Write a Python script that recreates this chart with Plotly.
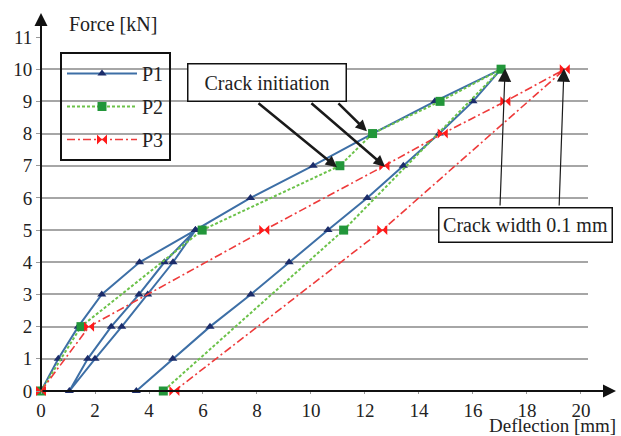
import plotly.graph_objects as go

# ---- data ----
p1_x = [0, 0.64, 1.38, 2.25, 3.65, 5.72, 4.89, 3.95, 2.99, 2.0, 1.05,
        1.73, 2.6, 3.63, 4.57, 5.72, 7.76, 10.08, 12.28, 14.59, 17.04,
        16.0, 14.75, 13.42, 12.08, 10.63, 9.19, 7.77, 6.26, 4.88, 3.53]
p1_y = [0, 1, 2, 3, 4, 5, 4, 3, 2, 1, 0,
        1, 2, 3, 4, 5, 6, 7, 8, 9, 10,
        9, 8, 7, 6, 5, 4, 3, 2, 1, 0]
p2_x = [0, 1.48, 5.97, 11.07, 12.28, 14.78, 17.04, 11.21, 4.53]
p2_y = [0, 2, 5, 7, 8, 9, 10, 5, 0]
p3_x = [0, 1.78, 8.27, 12.72, 14.88, 17.2, 19.4, 12.64, 4.94]
p3_y = [0, 2, 5, 7, 8, 9, 10, 5, 0]
series_names = ["P1", "P2", "P3"]
x_ticks = [0, 2, 4, 6, 8, 10, 12, 14, 16, 18, 20]
y_ticks = [0, 1, 2, 3, 4, 5, 6, 7, 8, 9, 10, 11]

FONT = "Liberation Serif"

fig = go.Figure()
fig.add_trace(go.Scatter(
    x=p1_x, y=p1_y, name=series_names[0], mode="lines+markers",
    line=dict(color="#3d6fa6", width=2),
    marker=dict(symbol="triangle-up", size=8, color="#1b2c6a"),
    cliponaxis=False, legendgroup="a"))
fig.add_trace(go.Scatter(
    x=p2_x, y=p2_y, name=series_names[1], mode="lines+markers",
    line=dict(color="#6cc24a", width=2, dash="3px,2px"),
    marker=dict(symbol="square", size=9, color="#22963a"),
    cliponaxis=False, legendgroup="b"))
fig.add_trace(go.Scatter(
    x=p3_x, y=p3_y, name=series_names[2], mode="lines+markers",
    line=dict(color="#ee3a3a", width=1.6, dash="8px,3px,2px,3px"),
    marker=dict(symbol="bowtie", size=10, color="#ff1a1a"),
    cliponaxis=False, legendgroup="c"))

L, R, T, B = 41, 33, 37, 45
W, H = 621, 436
pw, ph = W - L - R, H - T - B

def px_x(p):
    return (p - L) / pw

def px_y(p):
    return (H - B - p) / ph

annotations = []
# axis arrows
annotations.append(dict(xref="paper", yref="paper", x=px_x(616), y=0,
                        ax=-(616 - L), ay=0, text="", showarrow=True,
                        arrowhead=2, arrowsize=1.3, arrowwidth=2, arrowcolor="#111"))
annotations.append(dict(xref="paper", yref="paper", x=0, y=px_y(13),
                        ax=0, ay=(H - B - 13), text="", showarrow=True,
                        arrowhead=2, arrowsize=1.3, arrowwidth=2, arrowcolor="#111"))
# axis titles
annotations.append(dict(xref="paper", yref="paper", x=px_x(67), y=px_y(24),
                        xanchor="left", yanchor="middle", text="Force [kN]",
                        showarrow=False, font=dict(family=FONT, size=20, color="#222")))
annotations.append(dict(xref="paper", yref="paper", x=px_x(618), y=px_y(438),
                        xanchor="right", yanchor="bottom", text="Deflection [mm]",
                        showarrow=False, font=dict(family=FONT, size=19, color="#222")))
# crack initiation box and arrows
annotations.append(dict(xref="x", yref="y", x=(267 - L) / 27, y=(391 - 82.5) / 32.2,
                        text="Crack initiation", showarrow=False, width=157, height=36,
                        bordercolor="#111", borderwidth=1.5, borderpad=0, bgcolor="white",
                        font=dict(family=FONT, size=20, color="#222")))
for tx, ty, hx, hy in [(8.0, 8.98, 10.96, 6.95), (9.96, 8.98, 12.74, 6.97),
                       (10.96, 8.98, 12.07, 8.07)]:
    annotations.append(dict(xref="x", yref="y", axref="x", ayref="y",
                            x=hx, y=hy, ax=tx, ay=ty, text="", showarrow=True,
                            arrowhead=2, arrowsize=0.9, arrowwidth=2.5, arrowcolor="#1a1a1a"))
# crack width box and arrows
annotations.append(dict(xref="x", yref="y", x=(525.5 - L) / 27, y=(391 - 225) / 32.2,
                        text="Crack width 0.1 mm", showarrow=False, width=172, height=33,
                        bordercolor="#111", borderwidth=1.5, borderpad=0, bgcolor="white",
                        font=dict(family=FONT, size=20, color="#222")))
for tx, ty, hx, hy in [(17.0, 5.72, 17.19, 10.02), (19.19, 5.72, 19.37, 10.02)]:
    annotations.append(dict(xref="x", yref="y", axref="x", ayref="y",
                            x=hx, y=hy, ax=tx, ay=ty, text="", showarrow=True,
                            arrowhead=2, arrowsize=2.2, arrowwidth=1.2, arrowcolor="#1a1a1a"))

fig.update_layout(
    width=W, height=H,
    margin=dict(l=L, r=R, t=T, b=B),
    paper_bgcolor="white", plot_bgcolor="white",
    font=dict(family=FONT, size=19, color="#222"),
    showlegend=True,
    legend=dict(x=px_x(60), y=px_y(52), xanchor="left", yanchor="top",
                bgcolor="rgba(0,0,0,0)", bordercolor="#111", borderwidth=2,
                font=dict(family=FONT, size=20, color="#222"),
                itemwidth=70, tracegroupgap=4),
    annotations=annotations,
)
fig.update_xaxes(range=[0, 20.26], tickvals=x_ticks, showgrid=False, zeroline=False,
                 showline=False, ticks="outside", ticklen=2, tickcolor="#999",
                 tickfont=dict(family=FONT, size=19, color="#222"))
fig.update_yaxes(range=[0, 11], tickvals=y_ticks, showgrid=True, gridcolor="#a6a6a6",
                 gridwidth=1.5, zeroline=False, showline=False, ticks="outside",
                 ticklen=4, tickcolor="#999",
                 tickfont=dict(family=FONT, size=19, color="#222"))

fig.write_html("out.html", config={"displayModeBar": False},
               post_script="document.body.style.margin='0px';document.body.style.padding='0px';")
